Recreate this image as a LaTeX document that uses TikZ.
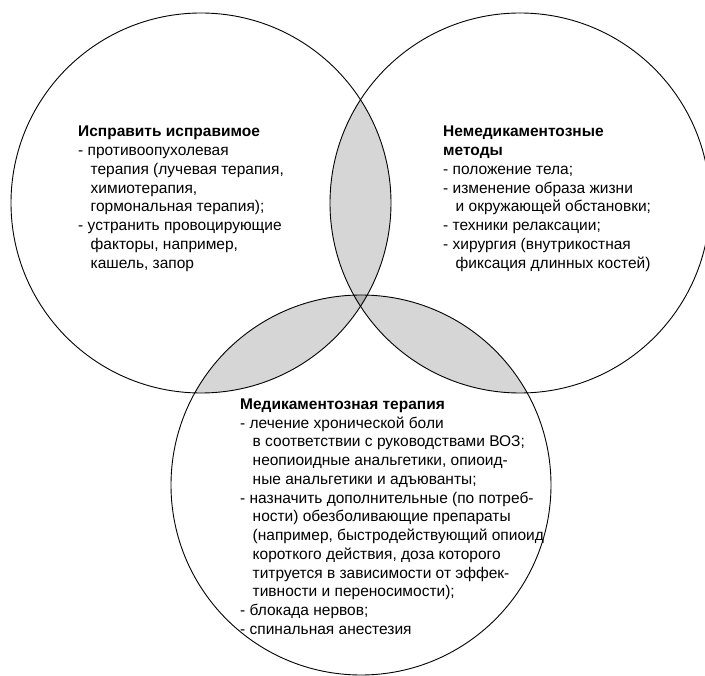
\documentclass[tikz,border=0pt]{standalone}
\usepackage{fontspec}
\setmainfont{Liberation Sans}
\newcommand{\ind}{\hspace*{12.5pt}}
\begin{document}
\begin{tikzpicture}[x=1pt,y=-1pt,
  ring/.style={draw=black,line width=0.9pt},
  lens/.style={fill=black!16},
  core/.style={fill=black!30},
  blocktext/.style={anchor=north west,inner sep=0pt,align=left,
    font=\fontsize{15.5}{18.75}\selectfont}]
\useasboundingbox (0,0) rectangle (705,676);
\clip (0,0) rectangle (705,676);
\coordinate (cA) at (201,203);
\coordinate (cB) at (520,203);
\coordinate (cC) at (361,485);
% pairwise overlaps
\begin{scope}\clip (cA) circle[radius=190pt]; \fill[lens] (cB) circle[radius=190pt];\end{scope}
\begin{scope}\clip (cA) circle[radius=190pt]; \fill[lens] (cC) circle[radius=190pt];\end{scope}
\begin{scope}\clip (cB) circle[radius=190pt]; \fill[lens] (cC) circle[radius=190pt];\end{scope}
% triple overlap
\begin{scope}\clip (cA) circle[radius=190pt]; \clip (cB) circle[radius=190pt]; \fill[core] (cC) circle[radius=190pt];\end{scope}
% outlines
\draw[ring] (cA) circle[radius=190pt];
\draw[ring] (cB) circle[radius=190pt];
\draw[ring] (cC) circle[radius=190pt];
% texts
\node[blocktext] (tA) at (78,126) {\textbf{Исправить исправимое}\\
- противоопухолевая\\
\ind терапия (лучевая терапия,\\
\ind химиотерапия,\\
\ind гормональная терапия);\\
- устранить провоцирующие\\
\ind факторы, например,\\
\ind кашель, запор};
\node[blocktext] (tB) at (443,126) {\textbf{Немедикаментозные}\\
\textbf{методы}\\
- положение тела;\\
- изменение образа жизни\\
\ind и окружающей обстановки;\\
- техники релаксации;\\
- хирургия (внутрикостная\\
\ind фиксация длинных костей)};
\node[blocktext] (tC) at (240,398.5) {\textbf{Медикаментозная терапия}\\
- лечение хронической боли\\
\ind в соответствии с руководствами ВОЗ;\\
\ind неопиоидные анальгетики, опиоид-\\
\ind ные анальгетики и адъюванты;\\
- назначить дополнительные (по потреб-\\
\ind ности) обезболивающие препараты\\
\ind (например, быстродействующий опиоид\\
\ind короткого действия, доза которого\\
\ind титруется в зависимости от эффек-\\
\ind тивности и переносимости);\\
- блокада нервов;\\
- спинальная анестезия};
\end{tikzpicture}
\end{document}
